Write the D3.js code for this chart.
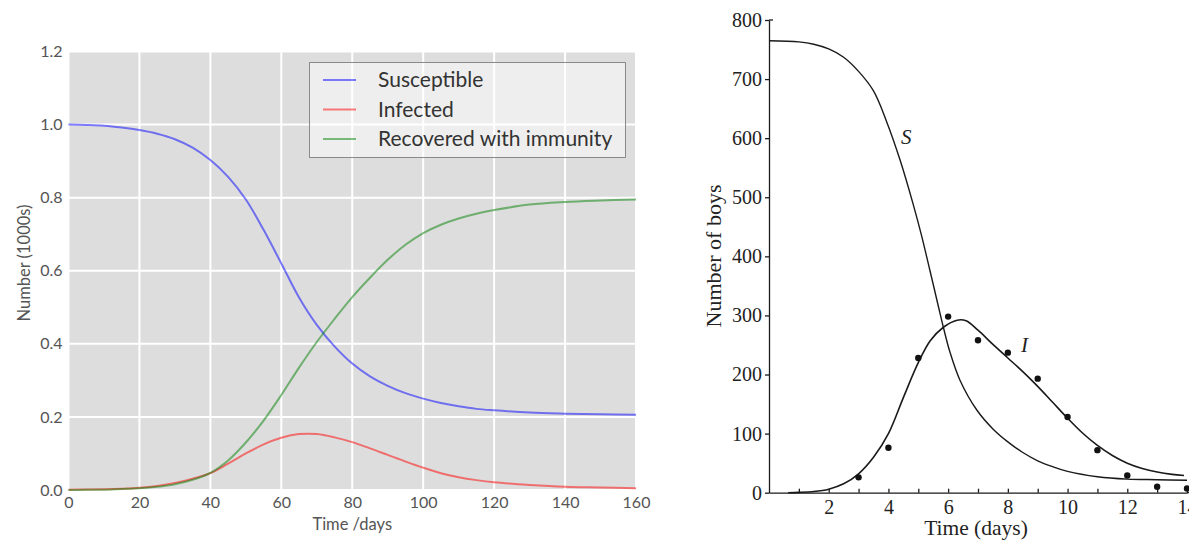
<!DOCTYPE html>
<html>
<head>
<meta charset="utf-8">
<script src="https://cdn.jsdelivr.net/npm/d3@7"></script>
<style>
  body { margin: 0; background: #fff; }
  svg { display: block; }
</style>
</head>
<body>
<div class="graph-container"></div>
<script>
var svgWidth = 1189;
var svgHeight = 544;

// left chart: SIR model (1000s)
var sirDays = [0, 5, 10, 15, 20, 25, 30, 35, 40, 45, 50, 55, 60, 65, 70, 75, 80, 85, 90, 95, 100, 105, 110, 115, 120, 130, 140, 150, 160];
var susceptible = [1.0, 0.999, 0.997, 0.992, 0.985, 0.975, 0.96, 0.937, 0.903, 0.857, 0.795, 0.712, 0.62, 0.527, 0.452, 0.393, 0.346, 0.311, 0.285, 0.265, 0.25, 0.238, 0.229, 0.222, 0.218, 0.212, 0.209, 0.207, 0.206];
var infected = [0.001, 0.0012, 0.002, 0.0035, 0.006, 0.011, 0.019, 0.031, 0.046, 0.072, 0.1, 0.125, 0.143, 0.153, 0.153, 0.144, 0.131, 0.114, 0.096, 0.078, 0.061, 0.046, 0.035, 0.027, 0.021, 0.014, 0.009, 0.007, 0.005];
var recovered = [0, 0.0005, 0.001, 0.003, 0.005, 0.009, 0.016, 0.028, 0.047, 0.081, 0.13, 0.19, 0.26, 0.335, 0.405, 0.468, 0.528, 0.581, 0.63, 0.671, 0.703, 0.726, 0.743, 0.756, 0.766, 0.781, 0.788, 0.792, 0.795];
var sirLabels = ['Susceptible', 'Infected', 'Recovered with immunity'];
var sirColors = ['#0000ff', '#ff0000', '#008000'];
var sirXTicks = [0, 20, 40, 60, 80, 100, 120, 140, 160];
var sirYTicks = [0, 0.2, 0.4, 0.6, 0.8, 1.0, 1.2];

// right chart: boarding school outbreak (number of boys)
var sDays = [0, 1, 1.5, 2, 2.5, 3, 3.5, 3.94, 4.39, 4.83, 5.11, 5.39, 5.67, 5.84, 6.06, 6.4, 6.96, 7.5, 8, 8.5, 9, 9.5, 10, 11, 12, 13, 14];
var sBoys = [765, 763, 759, 751, 737, 713, 680, 628, 563, 488, 435, 376, 316, 280, 238, 190, 140, 108, 86, 68, 54, 44, 36, 27, 23, 22, 21];
var iDays = [0.64, 1, 1.5, 2, 2.5, 3, 3.5, 4, 4.5, 5, 5.4, 5.84, 6.3, 6.6, 7, 7.5, 8, 8.5, 9, 9.5, 10, 10.5, 11, 11.5, 12, 12.5, 13, 13.5, 13.9];
var iBoys = [0, 0.5, 2, 6, 15, 32, 60, 100, 161, 220, 257, 280, 292, 291, 275, 251, 228, 205, 180, 153, 126, 101, 80, 63, 50, 41, 35, 31, 29];
var obsDays = [3, 4, 5, 6, 7, 8, 9, 10, 11, 12, 13, 14];
var obsBoys = [26, 76, 228, 298, 258, 237, 193, 128, 72, 29, 10, 7];
var boysYTicks = [0, 100, 200, 300, 400, 500, 600, 700, 800];
var boysXTicks = [1, 2, 3, 4, 5, 6, 7, 8, 9, 10, 11, 12, 13, 14];

var svg = d3.select('.graph-container').append('svg')
  .attr('width', svgWidth)
  .attr('height', svgHeight);

drawSir();
drawBoys();

function drawSir() {
  var xScale = d3.scaleLinear().domain([0, 160]).range([68.5, 636]);
  var yScale = d3.scaleLinear().domain([0, 1.2]).range([490, 51.5]);

  var g = svg.append('g').style('font-family', 'Lato, sans-serif');

  // gray plot background
  g.append('rect')
    .attr('x', xScale(0))
    .attr('y', yScale(1.2))
    .attr('width', xScale(160) - xScale(0))
    .attr('height', yScale(0) - yScale(1.2))
    .attr('fill', '#dddddd');

  // white grid
  g.selectAll('.vgrid')
    .data(sirXTicks)
    .enter()
    .append('line')
    .attr('x1', function(d) { return xScale(d); })
    .attr('x2', function(d) { return xScale(d); })
    .attr('y1', yScale(0))
    .attr('y2', yScale(1.2))
    .attr('stroke', '#fff')
    .attr('stroke-width', 2);

  g.selectAll('.hgrid')
    .data(sirYTicks)
    .enter()
    .append('line')
    .attr('x1', xScale(0))
    .attr('x2', xScale(160))
    .attr('y1', function(d) { return yScale(d); })
    .attr('y2', function(d) { return yScale(d); })
    .attr('stroke', '#fff')
    .attr('stroke-width', 2);

  var series = [susceptible, infected, recovered];
  var line = d3.line()
    .x(function(d, i) { return xScale(sirDays[i]); })
    .y(function(d) { return yScale(d); })
    .curve(d3.curveCatmullRom.alpha(0.5));

  g.selectAll('.sir-line')
    .data(series)
    .enter()
    .append('path')
    .attr('d', line)
    .attr('fill', 'none')
    .attr('stroke', function(d, i) { return sirColors[i]; })
    .attr('stroke-opacity', 0.5)
    .attr('stroke-width', 2);

  // axes, tick marks hidden
  var xAxis = d3.axisBottom(xScale).tickValues(sirXTicks).tickSize(0).tickPadding(7);
  var gx = g.append('g')
    .attr('transform', 'translate(0,' + yScale(0) + ')')
    .call(xAxis);
  var yAxis = d3.axisLeft(yScale).tickValues(sirYTicks).tickSize(0).tickPadding(6)
    .tickFormat(d3.format('.1f'));
  var gy = g.append('g')
    .attr('transform', 'translate(' + xScale(0) + ',0)')
    .call(yAxis);
  [gx, gy].forEach(function(a) {
    a.select('.domain').remove();
    a.selectAll('text')
      .style('font-family', 'Lato, sans-serif')
      .style('font-size', '16px')
      .attr('fill', '#555');
  });

  // axis labels
  g.append('text')
    .attr('x', xScale(80))
    .attr('y', 530)
    .style('text-anchor', 'middle')
    .style('font-size', '16.5px')
    .attr('fill', '#555')
    .text('Time /days');

  g.append('text')
    .attr('transform', 'translate(30,263) rotate(-90)')
    .style('text-anchor', 'middle')
    .style('font-size', '16.5px')
    .attr('fill', '#555')
    .text('Number (1000s)');

  // legend
  var legend = g.append('g');
  legend.append('rect')
    .attr('x', 309.5)
    .attr('y', 62.5)
    .attr('width', 316)
    .attr('height', 95)
    .attr('fill', 'rgba(255,255,255,0.5)')
    .attr('stroke', '#8a8a8a')
    .attr('stroke-width', 1);

  var rows = legend.selectAll('.row')
    .data(sirLabels)
    .enter()
    .append('g')
    .attr('transform', function(d, i) { return 'translate(0,' + (80 + i * 29.5) + ')'; });

  rows.append('line')
    .attr('x1', 323)
    .attr('x2', 356)
    .attr('stroke', function(d, i) { return sirColors[i]; })
    .attr('stroke-opacity', 0.5)
    .attr('stroke-width', 2);

  rows.append('text')
    .attr('x', 378)
    .attr('dy', '0.35em')
    .style('font-size', '21px')
    .attr('fill', '#333')
    .text(function(d) { return d; });
}

function drawBoys() {
  var xScale = d3.scaleLinear().domain([0, 14]).range([769, 1187]);
  var yScale = d3.scaleLinear().domain([0, 800]).range([492.7, 20]);
  var ink = '#1a1a1a';
  var font = '"Liberation Serif", "Times New Roman", serif';

  var g = svg.append('g').style('font-family', font);

  // y axis, ticks on the outside
  var yAxis = d3.axisLeft(yScale).tickValues(boysYTicks).tickSize(4).tickSizeOuter(0).tickPadding(3);
  var gy = g.append('g')
    .attr('transform', 'translate(' + xScale(0) + ',0)')
    .call(yAxis);

  // x axis, small ticks pointing up, labels on even days
  var xAxis = d3.axisBottom(xScale).tickValues(boysXTicks).tickSize(-4).tickSizeOuter(0).tickPadding(7)
    .tickFormat(function(d) { return d % 2 === 0 ? d : ''; });
  var gx = g.append('g')
    .attr('transform', 'translate(0,' + yScale(0) + ')')
    .call(xAxis);

  [gx, gy].forEach(function(a) {
    a.selectAll('line, .domain').attr('stroke', ink).attr('stroke-width', 1.3);
    a.selectAll('text')
      .style('font-family', font)
      .style('font-size', '20px')
      .attr('fill', '#222');
  });

  // the x axis line runs on to the edge
  g.append('line')
    .attr('x1', xScale(14))
    .attr('x2', svgWidth)
    .attr('y1', yScale(0))
    .attr('y2', yScale(0))
    .attr('stroke', ink)
    .attr('stroke-width', 1.3);

  // little spur at the top of the y axis
  g.append('line')
    .attr('x1', xScale(0))
    .attr('x2', xScale(0) + 4)
    .attr('y1', yScale(800))
    .attr('y2', yScale(800))
    .attr('stroke', ink)
    .attr('stroke-width', 1.3);

  var sLine = d3.line()
    .x(function(d, i) { return xScale(sDays[i]); })
    .y(function(d) { return yScale(d); })
    .curve(d3.curveCatmullRom.alpha(0.5));

  var iLine = d3.line()
    .x(function(d, i) { return xScale(iDays[i]); })
    .y(function(d) { return yScale(d); })
    .curve(d3.curveCatmullRom.alpha(0.5));

  g.append('path')
    .attr('d', sLine(sBoys))
    .attr('fill', 'none')
    .attr('stroke', ink)
    .attr('stroke-width', 1.4);

  g.append('path')
    .attr('d', iLine(iBoys))
    .attr('fill', 'none')
    .attr('stroke', ink)
    .attr('stroke-width', 1.6);

  // observed cases
  g.selectAll('.obs')
    .data(obsBoys)
    .enter()
    .append('circle')
    .attr('cx', function(d, i) { return xScale(obsDays[i]); })
    .attr('cy', function(d) { return yScale(d); })
    .attr('r', 3.2)
    .attr('fill', '#111');

  // curve labels
  g.append('text')
    .attr('x', 901)
    .attr('y', 144)
    .style('font-style', 'italic')
    .style('font-size', '21px')
    .attr('fill', '#222')
    .text('S');

  g.append('text')
    .attr('x', 1021)
    .attr('y', 352)
    .style('font-style', 'italic')
    .style('font-size', '21px')
    .attr('fill', '#222')
    .text('I');

  // axis labels
  g.append('text')
    .attr('x', 976)
    .attr('y', 535)
    .style('text-anchor', 'middle')
    .style('font-size', '21.5px')
    .attr('fill', '#222')
    .text('Time (days)');

  g.append('text')
    .attr('transform', 'translate(721,256) rotate(-90)')
    .style('text-anchor', 'middle')
    .style('font-size', '22px')
    .attr('fill', '#222')
    .text('Number of boys');
}
</script>
</body>
</html>
